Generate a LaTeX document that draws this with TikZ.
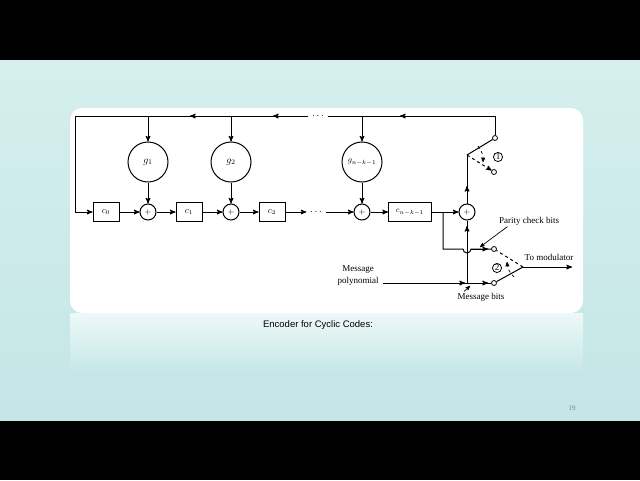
\documentclass[tikz,border=0pt]{standalone}
\usepackage{fontspec}
\setmainfont{Liberation Serif}
\newfontfamily\capfont{Liberation Sans}
\usetikzlibrary{arrows,positioning}
\definecolor{slidetop}{RGB}{214,238,238}
\definecolor{slidebot}{RGB}{196,230,230}
\begin{document}
\begin{tikzpicture}[x=1pt,y=-1pt,>=stealth',line width=1pt]
  \tikzstyle{reg}=[draw,rectangle,minimum width=26pt,minimum height=19pt,inner sep=0pt,font=\small]
  \tikzstyle{adder}=[draw,circle,minimum size=16pt,inner sep=0pt,font=\footnotesize]
  \tikzstyle{coef}=[draw,circle,minimum size=40pt,inner sep=0pt]
  \tikzstyle{contact}=[draw,circle,fill=white,minimum size=5pt,inner sep=0pt,line width=0.8pt]
  \tikzstyle{lbl}=[font=\fontsize{9}{9.5}\selectfont,inner sep=1pt]
  \tikzstyle{num}=[draw,circle,inner sep=0.6pt,font=\small,line width=0.8pt]

  % slide background
  \fill[black] (0,0) rectangle (640,480);
  \shade[top color=slidetop,bottom color=slidebot] (0,60) rectangle (640,420);
  \shade[top color=white!60!slidetop,bottom color=slidebot] (70,313) rectangle (583,375);
  \fill[white,rounded corners=12pt] (70,108) rectangle (583,313);
  \useasboundingbox (0,0) rectangle (640,480);

  % registers, adders, multipliers
  \node[reg]   (C0) at (106,212) {$c_0$};
  \node[adder] (A1) at (148,212) {$+$};
  \node[reg]   (C1) at (189,212) {$c_1$};
  \node[adder] (A2) at (231,212) {$+$};
  \node[reg]   (C2) at (272,212) {$c_2$};
  \node        (DB) at (316,212) {$\cdots$};
  \node[adder] (A3) at (362,212) {$+$};
  \node[reg,minimum width=43pt] (CN) at (410,212) {\footnotesize $c_{n-k-1}$};
  \node[adder] (AF) at (467,212) {$+$};
  \node[coef]  (G1) at (148,162) {$g_1$};
  \node[coef]  (G2) at (231,162) {$g_2$};
  \node[coef]  (GN) at (362,162) {\footnotesize $g_{n-k-1}$};
  \node        (DT) at (318,116) {$\cdots$};

  % switches
  \coordinate (P1) at (467,155);
  \node[contact] (S1a) at (495,138) {};
  \node[contact] (S1b) at (494,172) {};
  \node[num] (N1) at (498,157) {1};
  \coordinate (P2) at (523,267);
  \node[contact] (S2a) at (494,249) {};
  \node[contact] (S2b) at (494,283) {};
  \node[num] (N2) at (497,268) {2};
  \coordinate (TM) at (572,267);
  \coordinate (MP) at (383,283);
  \coordinate (TL) at (75,116);
  \coordinate (TR) at (495,116);
  \coordinate (BL) at (75,212);
  \coordinate (J1) at (443,212);
  \coordinate (J2) at (443,249);
  \coordinate (J3) at (467,283);

  % feedback line
  \draw (S1a) -- (TR) -- (DT);
  \draw[->] (TR) -- (400,116);
  \draw (DT) -- (TL) -- (BL);
  \draw[->] (300,116) -- (273,116);
  \draw[->] (240,116) -- (190,116);
  \draw[->] (BL) -- (C0);
  \draw[->] (148,116) -- (G1);
  \draw[->] (231,116) -- (G2);
  \draw[->] (362,116) -- (GN);
  \draw[->] (G1) -- (A1);
  \draw[->] (G2) -- (A2);
  \draw[->] (GN) -- (A3);

  % shift register chain
  \draw[->] (C0) -- (A1);
  \draw[->] (A1) -- (C1);
  \draw[->] (C1) -- (A2);
  \draw[->] (A2) -- (C2);
  \draw[->] (C2) -- (DB);
  \draw[->] (DB) -- (A3);
  \draw[->] (A3) -- (CN);
  \draw[->] (CN) -- (AF);

  % switch 1
  \draw (AF) -- (P1);
  \draw[->] (AF) -- (467,186);
  \draw (P1) -- (S1a);
  \draw[dashed,->] (P1) -- (S1b);
  \draw[dashed,->,line width=0.7pt] (478,146) to[bend left=20] (483,162);

  % parity and message paths
  \draw (J1) -- (J2) -- (463,249) arc (180:0:4) -- (S2a);
  \draw[->] (471,249) -- (488,249);
  \draw (J3) -- (AF);
  \draw[->] (J3) -- (467,226);
  \draw (MP) -- (S2b);
  \draw[->] (MP) -- (465,283);
  \draw[->] (J3) -- (488,283);

  % switch 2
  \draw (S2b) -- (P2);
  \draw[dashed] (P2) -- (S2a);
  \draw[->] (P2) -- (TM);
  \draw[dashed,->,line width=0.7pt] (514,277) to[bend left=20] (507,262);

  % labels
  \node[lbl] (ML1) at (358,270) {Message};
  \node[lbl,anchor=north] (ML2) at (358,276) {polynomial};
  \node[lbl] (PB) at (529,221) {Parity check bits};
  \draw[->,line width=0.7pt] (PB.south west) ++(10,0) -- (480,247);
  \node[lbl] (TO) at (549,257) {To modulator};
  \node[lbl] (MB) at (481,297) {Message bits};
  \draw[->,line width=0.7pt] (MB.north west) ++(8,0) -- (470,286);

  % caption and page number
  \node[font=\capfont\fontsize{9.5}{10}\selectfont] (CAP) at (318,325) {Encoder for Cyclic Codes:};
  \node[font=\fontsize{7}{8}\selectfont,text=gray] (PG) at (572,408) {19};
\end{tikzpicture}
\end{document}
